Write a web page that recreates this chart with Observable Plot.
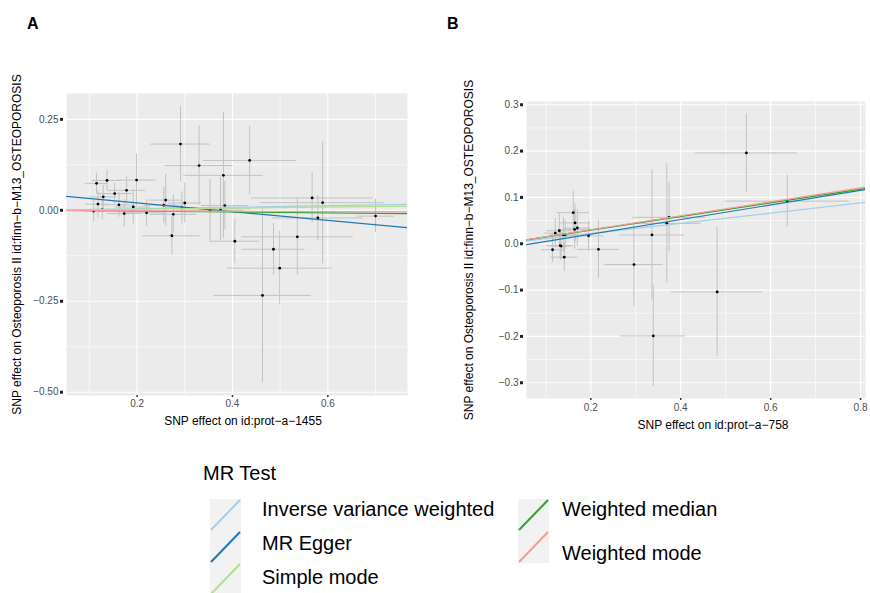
<!DOCTYPE html>
<html><head><meta charset="utf-8">
<script src="https://cdn.jsdelivr.net/npm/d3@7"></script>
<script src="https://cdn.jsdelivr.net/npm/@observablehq/plot@0.6"></script>
<style>
body{margin:0;background:#fff;font-family:"Liberation Sans",Arial,sans-serif}
#wrap{position:relative;width:870px;height:593px;overflow:hidden;background:#fff}
.panel{position:absolute}
#overlay{position:absolute;left:0;top:0;pointer-events:none}
</style></head><body><div id="wrap"></div>
<script>
// ---------- data ----------
const methods = ["Inverse variance weighted","MR Egger","Simple mode","Weighted median","Weighted mode"];
const methodColors = ["#a6cee3","#1f78b4","#b2df8a","#33a02c","#fb9a99"];

// Panel A: exposure id:prot-a-1455
const aBetaX = [0.115,0.137,0.199,0.178,0.153,0.129,0.118,0.162,0.192,0.109,0.127,0.173,0.220,0.256,0.260,0.276,0.273,0.291,0.300,0.294,0.330,0.353,0.375,0.381,0.384,0.436,0.405,0.486,0.463,0.499,0.536,0.567,0.589,0.579,0.700];
const aBetaY = [0.074,0.082,0.083,0.055,0.046,0.037,0.017,0.015,0.009,-0.002,0.002,-0.009,-0.007,0.014,0.028,-0.011,-0.070,0.182,0.020,0.007,0.123,0.000,0.004,0.096,0.013,0.137,-0.085,-0.107,-0.234,-0.159,-0.073,0.034,0.021,-0.021,-0.016];
const aSeX  = [0.024,0.031,0.041,0.040,0.037,0.028,0.026,0.033,0.037,0.023,0.030,0.035,0.042,0.042,0.035,0.049,0.061,0.062,0.035,0.031,0.071,0.070,0.063,0.083,0.049,0.098,0.052,0.066,0.102,0.110,0.117,0.128,0.131,0.095,0.040];
const aSeY  = [0.028,0.028,0.072,0.037,0.028,0.032,0.037,0.034,0.046,0.030,0.028,0.038,0.036,0.050,0.071,0.053,0.053,0.103,0.055,0.044,0.109,0.085,0.087,0.174,0.066,0.094,0.061,0.071,0.240,0.101,0.106,0.068,0.168,0.062,0.046];
const aIntercept = [0, 0.0448, 0, 0, 0];
const aSlope     = [0.021, -0.121, 0.015, -0.012, -0.006];

// Panel B: exposure id:prot-a-758
const bBetaX = [0.161,0.165,0.164,0.170,0.121,0.130,0.139,0.143,0.195,0.132,0.134,0.115,0.141,0.217,0.296,0.336,0.339,0.369,0.374,0.481,0.546,0.637];
const bBetaY = [0.067,0.045,0.031,0.034,0.023,0.028,0.019,0.019,0.017,-0.004,-0.005,-0.013,-0.029,-0.012,-0.045,0.019,-0.199,0.044,0.057,-0.104,0.196,0.092];
const bSeX  = [0.036,0.035,0.037,0.030,0.024,0.028,0.031,0.031,0.035,0.030,0.022,0.025,0.030,0.047,0.065,0.072,0.073,0.076,0.081,0.101,0.113,0.138];
const bSeY  = [0.046,0.041,0.043,0.039,0.032,0.037,0.038,0.032,0.032,0.032,0.029,0.027,0.030,0.063,0.090,0.140,0.109,0.129,0.074,0.140,0.084,0.056];
const bIntercept = [0, -0.011, 0, 0, 0];
const bSlope     = [0.110, 0.158, 0.149, 0.147, 0.151];

const yTitle = "SNP effect on Osteoporosis II id:finn\u2212b\u2212M13_OSTEOPOROSIS";
const aXTitle = "SNP effect on id:prot\u2212a\u22121455";
const bXTitle = "SNP effect on id:prot\u2212a\u2212758";

const aXMajor = [0.2,0.4,0.6], aXMinor = [0.1,0.3,0.5,0.7];
const aYMajor = [0.25,0,-0.25,-0.5], aYMinor = [0.125,-0.125,-0.375];
const bXMajor = [0.2,0.4,0.6,0.8], bXMinor = [0.1,0.3,0.5,0.7];
const bYMajor = [0.3,0.2,0.1,0,-0.1,-0.2,-0.3], bYMinor = [0.25,0.15,0.05,-0.05,-0.15,-0.25];

// ---------- build ----------
const font = "'Liberation Sans', Arial, Helvetica, sans-serif";
function panel(cfg) {
  const pts = cfg.bx.map((x, i) => ({x, y: cfg.by[i], sx: cfg.sx[i], sy: cfg.sy[i]}));
  const lines = [];
  methods.forEach((m, i) => {
    cfg.xDomain.forEach(x => lines.push({m, x, y: cfg.icpt[i] + cfg.slope[i] * x}));
  });
  return Plot.plot({
    width: cfg.width, height: cfg.height,
    marginLeft: cfg.ml, marginRight: cfg.mr, marginTop: cfg.mt, marginBottom: cfg.mb,
    style: {fontFamily: font, background: "transparent", overflow: "visible"},
    x: {domain: cfg.xDomain},
    y: {domain: cfg.yDomain},
    color: {domain: methods, range: methodColors},
    marks: [
      Plot.frame({fill: "#ebebeb"}),
      Plot.gridX(cfg.xMinor, {stroke: "white", strokeOpacity: 1, strokeWidth: 0.6}),
      Plot.gridY(cfg.yMinor, {stroke: "white", strokeOpacity: 1, strokeWidth: 0.6}),
      Plot.gridX(cfg.xMajor, {stroke: "white", strokeOpacity: 1, strokeWidth: 1.1}),
      Plot.gridY(cfg.yMajor, {stroke: "white", strokeOpacity: 1, strokeWidth: 1.1}),
      Plot.axisX(cfg.xMajor, {tickSize: 2, tickPadding: cfg.xPad, strokeWidth: 1.5, stroke: "#333", fill: "#4d4d4d", fontSize: 10, tickFormat: d3.format(".1f"), label: null}),
      Plot.axisY(cfg.yMajor, {tickSize: 3, tickPadding: 2, strokeWidth: 3, stroke: "#222", dx: -3, fill: "#4d4d4d", fontSize: 10, tickFormat: d3.format(cfg.yFmt), label: null}),
      Plot.ruleX(pts, {x: "x", y1: d => d.y - d.sy, y2: d => d.y + d.sy, stroke: "#c2c2c2", strokeWidth: 1, clip: true}),
      Plot.ruleY(pts, {y: "y", x1: d => d.x - d.sx, x2: d => d.x + d.sx, stroke: "#c2c2c2", strokeWidth: 1, clip: true}),
      Plot.dot(pts, {x: "x", y: "y", r: 1.4, fill: "black", stroke: null}),
      Plot.line(lines, {x: "x", y: "y", z: "m", stroke: "m", strokeWidth: 1.2, clip: true}),
      Plot.text([cfg.xTitle], {text: d => d, frameAnchor: "bottom", lineAnchor: "middle", textAnchor: "middle", dy: cfg.xTitleDy, dx: cfg.xTitleDx, fontSize: 12, fill: "black"}),
      Plot.text([yTitle], {text: d => d, frameAnchor: "left", rotate: -90, textAnchor: "middle", lineAnchor: "middle", dx: cfg.yTitleDx, fontSize: 12, fill: "black"})
    ]
  });
}

const wrap = document.getElementById("wrap");
const pA = panel({
  bx: aBetaX, by: aBetaY, sx: aSeX, sy: aSeY, icpt: aIntercept, slope: aSlope,
  xDomain: [0.052, 0.767], yDomain: [-0.509, 0.321],
  xMajor: aXMajor, xMinor: aXMinor, yMajor: aYMajor, yMinor: aYMinor, yFmt: ".2f",
  width: 430, height: 380, ml: 66, mr: 23, mt: 33, mb: 45, xPad: 2,
  xTitle: aXTitle, xTitleDy: 26, xTitleDx: 6, yTitleDx: -49
});
const dA = document.createElement("div"); dA.className = "panel"; dA.style.left = "0px"; dA.style.top = "60px";
dA.appendChild(pA); wrap.appendChild(dA);

const pB = panel({
  bx: bBetaX, by: bBetaY, sx: bSeX, sy: bSeY, icpt: bIntercept, slope: bSlope,
  xDomain: [0.057, 0.811], yDomain: [-0.334, 0.307],
  xMajor: bXMajor, xMinor: bXMinor, yMajor: bYMajor, yMinor: bYMinor, yFmt: ".1f",
  width: 425, height: 380, ml: 81, mr: 5, mt: 41, mb: 42, xPad: 3,
  xTitle: bXTitle, xTitleDy: 27, xTitleDx: 17, yTitleDx: -57
});
const dB = document.createElement("div"); dB.className = "panel"; dB.style.left = "445px"; dB.style.top = "60px";
dB.appendChild(pB); wrap.appendChild(dB);

// overlay: panel tags + legend
const svg = d3.select(wrap).append("svg").attr("id", "overlay").attr("width", 870).attr("height", 593)
  .style("font-family", font);
svg.append("text").attr("x", 27).attr("y", 28.5).attr("font-size", 16).attr("font-weight", "bold").text("A");
svg.append("text").attr("x", 447).attr("y", 28.5).attr("font-size", 16).attr("font-weight", "bold").text("B");

svg.append("text").attr("x", 203).attr("y", 480).attr("font-size", 20).text("MR Test");
const keyPos = [
  {kx: 210, ky: 499, tx: 262, ty: 516},
  {kx: 210, ky: 531, tx: 262, ty: 550},
  {kx: 210, ky: 563, tx: 262, ty: 584},
  {kx: 518, ky: 499, tx: 562, ty: 516},
  {kx: 518, ky: 531, tx: 562, ty: 560}
];
methods.forEach((m, i) => {
  const p = keyPos[i];
  svg.append("rect").attr("x", p.kx).attr("y", p.ky).attr("width", 31).attr("height", 32).attr("fill", "#f2f2f2");
  svg.append("line").attr("x1", p.kx + 1).attr("y1", p.ky + 31).attr("x2", p.kx + 30).attr("y2", p.ky + 1)
    .attr("stroke", methodColors[i]).attr("stroke-width", 2);
  svg.append("text").attr("x", p.tx).attr("y", p.ty).attr("font-size", 20).text(m);
});
</script></body></html>
